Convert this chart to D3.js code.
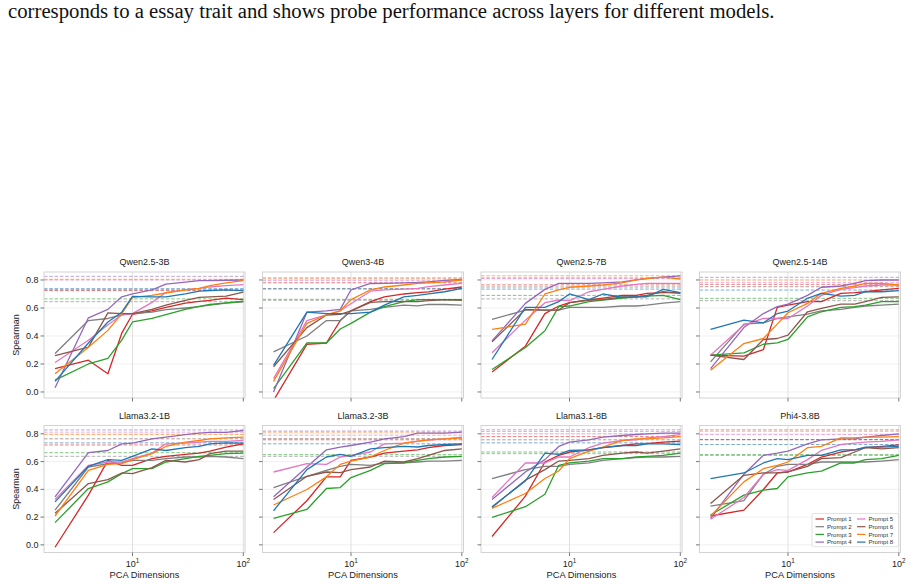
<!DOCTYPE html>
<html>
<head>
<meta charset="utf-8">
<script src="https://cdn.jsdelivr.net/npm/d3@7"></script>
<style>
  body { margin: 0; background: #fff; }
  svg { display: block; }
</style>
</head>
<body>
<svg id="chart" width="912" height="585"></svg>
<script>
// PCA dimensions (x) and prompt series
const xDims = [2, 4, 6, 8, 10, 15, 20, 30, 40, 50, 70, 100];
const prompts = ["Prompt 1", "Prompt 2", "Prompt 3", "Prompt 4", "Prompt 5", "Prompt 6", "Prompt 7", "Prompt 8"];
const colors = ["#d62728", "#7f7f7f", "#2ca02c", "#9467bd", "#e377c2", "#8c564b", "#ff7f0e", "#1f77b4"];
const modelNames = ["Qwen2.5-3B", "Qwen3-4B", "Qwen2.5-7B", "Qwen2.5-14B", "Llama3.2-1B", "Llama3.2-3B", "Llama3.1-8B", "Phi4-3.8B"];
const yTicks = [0.0, 0.2, 0.4, 0.6, 0.8];
const xTicks = [10, 100];

// one row per prompt (1..8)
const qwen25_3b = [
  [0.167, 0.227, 0.13, 0.42, 0.555, 0.58, 0.605, 0.635, 0.647, 0.655, 0.67, 0.66],
  [0.275, 0.51, 0.525, 0.55, 0.56, 0.57, 0.588, 0.60, 0.61, 0.62, 0.635, 0.643],
  [0.085, 0.20, 0.24, 0.37, 0.50, 0.525, 0.552, 0.59, 0.612, 0.625, 0.636, 0.648],
  [0.03, 0.53, 0.59, 0.68, 0.70, 0.73, 0.77, 0.785, 0.795, 0.795, 0.798, 0.80],
  [0.21, 0.37, 0.48, 0.55, 0.56, 0.64, 0.71, 0.73, 0.74, 0.75, 0.76, 0.767],
  [0.26, 0.32, 0.565, 0.56, 0.56, 0.59, 0.62, 0.655, 0.676, 0.68, 0.685, 0.714],
  [0.13, 0.32, 0.44, 0.56, 0.676, 0.69, 0.707, 0.73, 0.74, 0.76, 0.78, 0.795],
  [0.076, 0.35, 0.50, 0.57, 0.683, 0.68, 0.68, 0.70, 0.72, 0.725, 0.73, 0.724]
];
const qwen3_4b = [
  [-0.06, 0.34, 0.35, 0.51, 0.58, 0.645, 0.68, 0.70, 0.71, 0.715, 0.735, 0.75],
  [0.287, 0.40, 0.51, 0.51, 0.58, 0.59, 0.605, 0.62, 0.615, 0.625, 0.625, 0.62],
  [0.024, 0.35, 0.35, 0.45, 0.49, 0.57, 0.61, 0.645, 0.66, 0.66, 0.66, 0.657],
  [0.0, 0.57, 0.58, 0.59, 0.73, 0.775, 0.776, 0.78, 0.782, 0.787, 0.797, 0.805],
  [0.095, 0.51, 0.55, 0.58, 0.63, 0.72, 0.73, 0.735, 0.74, 0.752, 0.764, 0.776],
  [0.18, 0.46, 0.55, 0.555, 0.58, 0.64, 0.645, 0.645, 0.645, 0.652, 0.66, 0.657],
  [0.076, 0.49, 0.55, 0.58, 0.66, 0.73, 0.75, 0.764, 0.776, 0.78, 0.787, 0.80],
  [0.19, 0.57, 0.56, 0.56, 0.56, 0.57, 0.62, 0.68, 0.69, 0.70, 0.716, 0.74]
];
const qwen25_7b = [
  [0.143, 0.327, 0.56, 0.614, 0.638, 0.657, 0.67, 0.69, 0.69, 0.705, 0.71, 0.71],
  [0.518, 0.585, 0.585, 0.585, 0.604, 0.604, 0.604, 0.614, 0.614, 0.62, 0.635, 0.645],
  [0.16, 0.318, 0.437, 0.61, 0.614, 0.645, 0.657, 0.67, 0.68, 0.685, 0.69, 0.66],
  [0.365, 0.633, 0.733, 0.776, 0.776, 0.776, 0.78, 0.787, 0.80, 0.81, 0.82, 0.829],
  [0.28, 0.513, 0.638, 0.657, 0.652, 0.716, 0.733, 0.757, 0.769, 0.776, 0.776, 0.776],
  [0.358, 0.59, 0.585, 0.585, 0.638, 0.657, 0.66, 0.68, 0.68, 0.69, 0.716, 0.705],
  [0.447, 0.485, 0.70, 0.73, 0.748, 0.757, 0.764, 0.78, 0.80, 0.812, 0.82, 0.807],
  [0.232, 0.604, 0.604, 0.645, 0.70, 0.66, 0.70, 0.675, 0.68, 0.68, 0.733, 0.71]
];
const qwen25_14b = [
  [0.263, 0.256, 0.303, 0.604, 0.621, 0.645, 0.645, 0.705, 0.71, 0.716, 0.73, 0.74],
  [0.215, 0.485, 0.494, 0.525, 0.537, 0.556, 0.58, 0.59, 0.604, 0.614, 0.62, 0.628],
  [0.263, 0.28, 0.341, 0.351, 0.375, 0.537, 0.573, 0.604, 0.609, 0.621, 0.645, 0.645],
  [0.167, 0.46, 0.56, 0.61, 0.628, 0.69, 0.748, 0.757, 0.776, 0.795, 0.80, 0.80],
  [0.263, 0.478, 0.525, 0.525, 0.525, 0.614, 0.69, 0.733, 0.745, 0.757, 0.764, 0.764],
  [0.263, 0.232, 0.375, 0.382, 0.406, 0.573, 0.597, 0.628, 0.628, 0.645, 0.676, 0.68],
  [0.155, 0.346, 0.382, 0.485, 0.566, 0.633, 0.705, 0.74, 0.757, 0.776, 0.776, 0.764],
  [0.447, 0.513, 0.494, 0.56, 0.578, 0.669, 0.705, 0.685, 0.69, 0.716, 0.716, 0.724]
];
const llama32_1b = [
  [-0.017, 0.358, 0.609, 0.573, 0.573, 0.621, 0.638, 0.652, 0.661, 0.676, 0.704, 0.728],
  [0.25, 0.561, 0.585, 0.59, 0.609, 0.609, 0.621, 0.633, 0.633, 0.638, 0.633, 0.621],
  [0.16, 0.406, 0.454, 0.513, 0.549, 0.549, 0.597, 0.621, 0.638, 0.645, 0.657, 0.661],
  [0.346, 0.664, 0.68, 0.728, 0.733, 0.764, 0.776, 0.795, 0.805, 0.81, 0.81, 0.824],
  [0.327, 0.573, 0.597, 0.597, 0.621, 0.661, 0.728, 0.733, 0.74, 0.745, 0.745, 0.752],
  [0.227, 0.442, 0.47, 0.518, 0.513, 0.556, 0.609, 0.597, 0.614, 0.657, 0.676, 0.676],
  [0.208, 0.537, 0.58, 0.585, 0.614, 0.657, 0.709, 0.74, 0.752, 0.764, 0.771, 0.776],
  [0.31, 0.566, 0.614, 0.609, 0.638, 0.692, 0.68, 0.70, 0.71, 0.728, 0.735, 0.733]
];
const llama32_3b = [
  [0.088, 0.318, 0.49, 0.49, 0.609, 0.633, 0.661, 0.676, 0.685, 0.70, 0.716, 0.723],
  [0.413, 0.494, 0.537, 0.566, 0.58, 0.573, 0.59, 0.59, 0.597, 0.604, 0.604, 0.609],
  [0.191, 0.255, 0.406, 0.413, 0.485, 0.537, 0.585, 0.59, 0.609, 0.621, 0.633, 0.638],
  [0.346, 0.561, 0.685, 0.704, 0.716, 0.74, 0.764, 0.78, 0.805, 0.805, 0.805, 0.812],
  [0.525, 0.585, 0.58, 0.633, 0.645, 0.669, 0.728, 0.733, 0.745, 0.755, 0.764, 0.776],
  [0.327, 0.494, 0.525, 0.52, 0.542, 0.561, 0.604, 0.597, 0.621, 0.645, 0.68, 0.692],
  [0.287, 0.399, 0.49, 0.58, 0.604, 0.633, 0.68, 0.733, 0.747, 0.757, 0.764, 0.771],
  [0.246, 0.542, 0.633, 0.652, 0.638, 0.692, 0.70, 0.709, 0.705, 0.716, 0.723, 0.728]
];
const llama31_8b = [
  [0.06, 0.351, 0.597, 0.645, 0.669, 0.685, 0.70, 0.716, 0.728, 0.73, 0.74, 0.747],
  [0.478, 0.542, 0.566, 0.566, 0.58, 0.59, 0.609, 0.621, 0.628, 0.633, 0.633, 0.638],
  [0.198, 0.275, 0.365, 0.573, 0.59, 0.604, 0.621, 0.621, 0.633, 0.638, 0.645, 0.661],
  [0.327, 0.525, 0.614, 0.709, 0.74, 0.757, 0.776, 0.788, 0.795, 0.80, 0.805, 0.805],
  [0.341, 0.59, 0.59, 0.633, 0.633, 0.70, 0.733, 0.752, 0.757, 0.771, 0.78, 0.795],
  [0.27, 0.466, 0.542, 0.604, 0.609, 0.621, 0.645, 0.661, 0.669, 0.661, 0.676, 0.692],
  [0.263, 0.37, 0.478, 0.532, 0.621, 0.676, 0.704, 0.752, 0.764, 0.764, 0.771, 0.78],
  [0.275, 0.461, 0.661, 0.652, 0.68, 0.685, 0.70, 0.716, 0.716, 0.728, 0.728, 0.723]
];
const phi4_38b = [
  [0.208, 0.25, 0.399, 0.518, 0.525, 0.58, 0.633, 0.669, 0.685, 0.70, 0.709, 0.721],
  [0.279, 0.318, 0.509, 0.566, 0.58, 0.58, 0.597, 0.597, 0.597, 0.597, 0.604, 0.614],
  [0.215, 0.358, 0.394, 0.406, 0.49, 0.518, 0.532, 0.59, 0.59, 0.614, 0.621, 0.645],
  [0.191, 0.509, 0.645, 0.661, 0.676, 0.728, 0.757, 0.764, 0.764, 0.776, 0.788, 0.80],
  [0.184, 0.341, 0.509, 0.542, 0.537, 0.614, 0.68, 0.723, 0.733, 0.74, 0.745, 0.757],
  [0.298, 0.501, 0.518, 0.518, 0.525, 0.566, 0.621, 0.628, 0.669, 0.70, 0.692, 0.70],
  [0.208, 0.454, 0.549, 0.573, 0.597, 0.70, 0.709, 0.771, 0.771, 0.776, 0.776, 0.78],
  [0.478, 0.518, 0.59, 0.621, 0.614, 0.645, 0.645, 0.685, 0.685, 0.704, 0.704, 0.709]
];

// full-dimension reference scores (dashed), prompt 1..8
const base_qwen25_3b = [0.724, 0.645, 0.665, 0.826, 0.80, 0.73, 0.805, 0.738];
const base_qwen3_4b = [0.78, 0.655, 0.662, 0.815, 0.795, 0.737, 0.808, 0.737];
const base_qwen25_7b = [0.765, 0.665, 0.69, 0.815, 0.81, 0.75, 0.83, 0.735];
const base_qwen25_14b = [0.769, 0.652, 0.669, 0.819, 0.783, 0.752, 0.80, 0.728];
const base_llama32_1b = [0.72, 0.638, 0.664, 0.828, 0.812, 0.764, 0.795, 0.735];
const base_llama32_3b = [0.757, 0.638, 0.65, 0.82, 0.79, 0.765, 0.812, 0.728];
const base_llama31_8b = [0.78, 0.657, 0.669, 0.829, 0.80, 0.757, 0.817, 0.735];
const base_phi4_38b = [0.759, 0.645, 0.65, 0.829, 0.795, 0.757, 0.819, 0.723];

const panelSeries = [qwen25_3b, qwen3_4b, qwen25_7b, qwen25_14b, llama32_1b, llama32_3b, llama31_8b, phi4_38b];
const panelBase = [base_qwen25_3b, base_qwen3_4b, base_qwen25_7b, base_qwen25_14b, base_llama32_1b, base_llama32_3b, base_llama31_8b, base_phi4_38b];

const svg = d3.select("#chart");
const font = "'Liberation Sans', Arial, Helvetica, sans-serif";

// caption line above the figure
const cap = svg.append("text")
  .attr("x", 8).attr("y", 18)
  .attr("font-family", "'Liberation Serif', 'Times New Roman', serif")
  .attr("font-size", 16)
  .attr("fill", "#111")
  .text("corresponds to a essay trait and shows probe performance across layers for different models.");
const cw = cap.node().getComputedTextLength();
cap.attr("font-size", 16 * 767 / cw);

// layout
const colLeft = [44, 262.5, 481, 699.5];
const rowTop = [272, 425.5];
const pw = 201, ph = [126, 127];
const yDomains = [[-0.043, 0.857], [-0.055, 0.86]];

panelSeries.forEach((series, i) => {
  const r = Math.floor(i / 4), c = i % 4;
  const left = colLeft[c], top = rowTop[r], h = ph[r];
  const x = d3.scaleLog().domain([1.59, 103.6]).range([0, pw]);
  const y = d3.scaleLinear().domain(yDomains[r]).range([h, 0]);

  const g = svg.append("g").attr("transform", `translate(${left},${top})`);
  const clipId = "clip" + i;
  g.append("clipPath").attr("id", clipId)
    .append("rect").attr("width", pw).attr("height", h);

  // grid
  g.selectAll(".hg").data(yTicks).join("line")
    .attr("x1", 0).attr("x2", pw)
    .attr("y1", d => y(d)).attr("y2", d => y(d))
    .attr("stroke", "#ececec").attr("stroke-width", 0.8);
  g.selectAll(".vg").data(xTicks).join("line")
    .attr("x1", d => x(d)).attr("x2", d => x(d))
    .attr("y1", 0).attr("y2", h)
    .attr("stroke", "#dcdcdc").attr("stroke-width", 0.9);

  const plot = g.append("g").attr("clip-path", `url(#${clipId})`);

  // dashed reference lines
  plot.selectAll(".base").data(panelBase[i]).join("line")
    .attr("x1", 0).attr("x2", pw)
    .attr("y1", d => y(d)).attr("y2", d => y(d))
    .attr("stroke", (d, k) => colors[k])
    .attr("stroke-opacity", 0.6)
    .attr("stroke-width", 1)
    .attr("stroke-dasharray", "3.5,1.8");

  const line = d3.line().x((d, k) => x(xDims[k])).y(d => y(d));
  plot.selectAll(".ser").data(series).join("path")
    .attr("d", d => line(d))
    .attr("fill", "none")
    .attr("stroke", (d, k) => colors[k])
    .attr("stroke-width", 1.3)
    .attr("stroke-linejoin", "round");

  // frame
  g.append("rect").attr("width", pw).attr("height", h)
    .attr("fill", "none").attr("stroke", "#cfcfcf").attr("stroke-width", 0.9);

  // ticks
  g.selectAll(".yt").data(yTicks).join("line")
    .attr("x1", -3.5).attr("x2", 0)
    .attr("y1", d => y(d)).attr("y2", d => y(d))
    .attr("stroke", "#555").attr("stroke-width", 0.8);
  g.selectAll(".xt").data(xTicks).join("line")
    .attr("x1", d => x(d)).attr("x2", d => x(d))
    .attr("y1", h).attr("y2", h + 3.5)
    .attr("stroke", "#555").attr("stroke-width", 0.8);

  // title
  g.append("text").attr("x", pw / 2).attr("y", -7)
    .attr("text-anchor", "middle")
    .attr("font-family", font).attr("font-size", 9).attr("fill", "#222")
    .text(modelNames[i]);

  if (c === 0) {
    g.selectAll(".yl").data(yTicks).join("text")
      .attr("x", -5.5).attr("y", d => y(d)).attr("dy", "0.35em")
      .attr("text-anchor", "end")
      .attr("font-family", font).attr("font-size", 9).attr("fill", "#222")
      .text(d => d.toFixed(1));
    g.append("text")
      .attr("transform", `translate(${18.5 - left},${h / 2}) rotate(-90)`)
      .attr("text-anchor", "middle")
      .attr("font-family", font).attr("font-size", 9).attr("fill", "#222")
      .text("Spearman");
  }

  if (r === 1) {
    xTicks.forEach(t => {
      const tx = g.append("text").attr("x", x(t)).attr("y", h + 14.5)
        .attr("text-anchor", "middle")
        .attr("font-family", font).attr("font-size", 9).attr("fill", "#222");
      tx.append("tspan").text("10");
      tx.append("tspan").attr("dy", -4).attr("font-size", 6.3).text(Math.round(Math.log10(t)));
    });
    g.append("text").attr("x", pw / 2).attr("y", h + 25.5)
      .attr("text-anchor", "middle")
      .attr("font-family", font).attr("font-size", 9.3).attr("fill", "#222")
      .text("PCA Dimensions");
  }

  // legend in the last panel
  if (i === panelSeries.length - 1) {
    const lg = g.append("g").attr("transform", `translate(${812 - left},${513.5 - top})`);
    lg.append("rect").attr("width", 86.5).attr("height", 33.2)
      .attr("rx", 1.5)
      .attr("fill", "#fff").attr("fill-opacity", 0.85)
      .attr("stroke", "#d5d5d5").attr("stroke-width", 0.7);
    prompts.forEach((p, k) => {
      const col = Math.floor(k / 4), row = k % 4;
      const ix = 3.5 + col * 41.5, iy = 5.5 + row * 7.7;
      lg.append("line").attr("x1", ix).attr("x2", ix + 8.5)
        .attr("y1", iy).attr("y2", iy)
        .attr("stroke", colors[k]).attr("stroke-width", 1.2);
      lg.append("text").attr("x", ix + 11.5).attr("y", iy).attr("dy", "0.35em")
        .attr("font-family", font).attr("font-size", 6.1).attr("fill", "#333")
        .text(p);
    });
  }
});
</script>
</body>
</html>
